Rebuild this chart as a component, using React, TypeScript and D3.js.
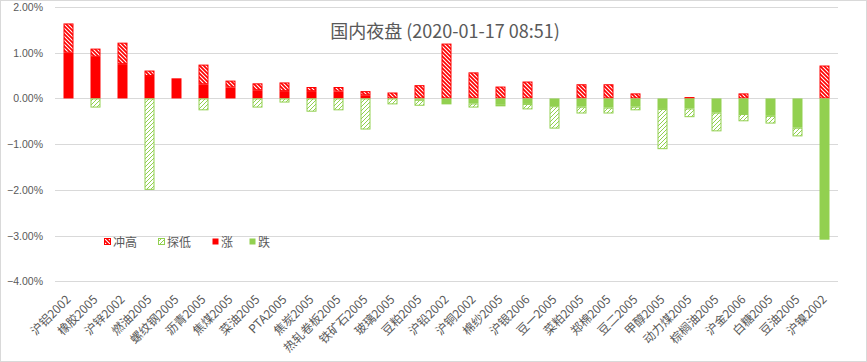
import * as d3 from 'd3';
import { useEffect, useRef } from 'react';

const categories = [
  '沪铝2002', '橡胶2005', '沪锌2002', '燃油2005', '螺纹钢2005', '沥青2005',
  '焦煤2005', '菜油2005', 'PTA2005', '焦炭2005', '热轧卷板2005', '铁矿石2005',
  '玻璃2005', '豆粕2005', '沪铅2002', '沪铜2002', '棉纱2005', '沪银2006',
  '豆一2005', '菜粕2005', '郑棉2005', '豆二2005', '甲醇2005', '动力煤2005',
  '棕榈油2005', '沪金2006', '白糖2005', '豆油2005', '沪镍2002',
];

// close change (%)
const closeVals = [
  1.0, 0.91, 0.75, 0.49, 0.44, 0.31, 0.24, 0.18, 0.16, 0.16, 0.15, 0.07,
  0, -0.03, -0.13, -0.11, -0.14, -0.12, -0.17, -0.18, -0.2, -0.18, -0.23, -0.22,
  -0.31, -0.34, -0.38, -0.64, -3.09,
];

// session high (%)
const highVals = [
  1.64, 1.09, 1.22, 0.61, 0.44, 0.74, 0.39, 0.33, 0.35, 0.25, 0.25, 0.16,
  0.13, 0.29, 1.2, 0.57, 0.26, 0.37, 0, 0.31, 0.31, 0.11, 0, 0.03,
  0, 0.11, 0, 0, 0.72,
];

// session low (%)
const lowVals = [
  0, -0.2, 0, -2.0, 0, -0.26, 0, -0.2, -0.09, -0.29, -0.26, -0.68,
  -0.13, -0.16, -0.13, -0.2, -0.17, -0.24, -0.66, -0.33, -0.33, -0.26, -1.11, -0.41,
  -0.72, -0.5, -0.55, -0.83, -3.09,
];

const yTicks = [2, 1, 0, -1, -2, -3, -4];

const legendItems = [
  { key: '冲高', fill: 'url(#hatchUp)', stroke: '#FF0000', x: 104 },
  { key: '探低', fill: 'url(#hatchDown)', stroke: '#92D050', x: 158 },
  { key: '涨', fill: '#FF0000', stroke: 'none', x: 212 },
  { key: '跌', fill: '#92D050', stroke: 'none', x: 249 },
];

const RED = '#FF0000';
const GREEN = '#92D050';
const FONT = '"Noto Sans CJK SC", "Noto Sans", sans-serif';

const App = () => {
  const ref = useRef<SVGSVGElement | null>(null);
  const width = 867;
  const height = 362;
  const margin = { left: 55, right: 29, top: 7, bottom: 80.7 };

  useEffect(() => {
    if (!ref.current) return;
    const svg = d3.select(ref.current);
    svg.selectAll('*').remove();

    const defs = svg.append('defs');
    const up = defs
      .append('pattern')
      .attr('id', 'hatchUp')
      .attr('patternUnits', 'userSpaceOnUse')
      .attr('width', 4)
      .attr('height', 4);
    up.append('rect').attr('width', 4).attr('height', 4).attr('fill', RED);
    up.append('path')
      .attr('d', 'M-1,-1 L5,5 M-1,3 L1,5 M3,-1 L5,1')
      .attr('stroke', 'white')
      .attr('stroke-width', 1.1);

    const down = defs
      .append('pattern')
      .attr('id', 'hatchDown')
      .attr('patternUnits', 'userSpaceOnUse')
      .attr('width', 4)
      .attr('height', 4);
    down.append('rect').attr('width', 4).attr('height', 4).attr('fill', 'white');
    down.append('path')
      .attr('d', 'M-1,5 L5,-1 M-1,1 L1,-1 M3,5 L5,3')
      .attr('stroke', GREEN)
      .attr('stroke-width', 1);

    // outer frame
    svg.append('rect')
      .attr('x', 0.5)
      .attr('y', 0.5)
      .attr('width', width - 1)
      .attr('height', height - 1)
      .attr('fill', 'white')
      .attr('stroke', '#D9D9D9');

    const xScale = d3
      .scaleBand()
      .domain(categories)
      .range([margin.left, width - margin.right])
      .paddingInner(0.63)
      .paddingOuter(0.315);

    const yScale = d3
      .scaleLinear()
      .domain([-4, 2])
      .range([height - margin.bottom, margin.top]);

    // grid
    svg.append('g')
      .selectAll('line')
      .data(yTicks)
      .join('line')
      .attr('x1', margin.left)
      .attr('x2', width - margin.right)
      .attr('y1', (d) => Math.round(yScale(d)) + 0.5)
      .attr('y2', (d) => Math.round(yScale(d)) + 0.5)
      .attr('stroke', '#D9D9D9');

    svg.append('g')
      .selectAll('text')
      .data(yTicks)
      .join('text')
      .attr('x', 43)
      .attr('y', (d) => yScale(d) + 4)
      .attr('text-anchor', 'end')
      .attr('font-family', '"Liberation Sans", Arial, sans-serif')
      .attr('font-size', 10.5)
      .attr('fill', '#595959')
      .text((d) => d3.format('.2f')(d) + '%');

    const rows = categories.map((c, i) => {
      const close = closeVals[i];
      const rise = Math.max(close, 0);
      const fall = Math.min(close, 0);
      return { c, rise, fall, high: highVals[i], low: lowVals[i] };
    });

    const bw = xScale.bandwidth();
    const g = svg.append('g');

    // 涨
    g.selectAll('rect.rise')
      .data(rows.filter((d) => d.rise > 0))
      .join('rect')
      .attr('class', 'rise')
      .attr('x', (d) => xScale(d.c)!)
      .attr('width', bw)
      .attr('y', (d) => yScale(d.rise))
      .attr('height', (d) => yScale(0) - yScale(d.rise))
      .attr('fill', RED);

    // 冲高
    g.selectAll('rect.up')
      .data(rows.filter((d) => d.high > d.rise))
      .join('rect')
      .attr('class', 'up')
      .attr('x', (d) => xScale(d.c)! + 0.5)
      .attr('width', bw - 1)
      .attr('y', (d) => yScale(d.high) + 0.5)
      .attr('height', (d) => Math.max(yScale(d.rise) - yScale(d.high) - 1, 0.5))
      .attr('fill', 'url(#hatchUp)')
      .attr('stroke', RED)
      .attr('stroke-width', 1);

    // 跌
    g.selectAll('rect.fall')
      .data(rows.filter((d) => d.fall < 0))
      .join('rect')
      .attr('class', 'fall')
      .attr('x', (d) => xScale(d.c)!)
      .attr('width', bw)
      .attr('y', yScale(0))
      .attr('height', (d) => yScale(d.fall) - yScale(0))
      .attr('fill', GREEN);

    // 探低
    g.selectAll('rect.down')
      .data(rows.filter((d) => d.low < d.fall))
      .join('rect')
      .attr('class', 'down')
      .attr('x', (d) => xScale(d.c)! + 0.5)
      .attr('width', bw - 1)
      .attr('y', (d) => yScale(d.fall) + 0.5)
      .attr('height', (d) => Math.max(yScale(d.low) - yScale(d.fall) - 1, 0.5))
      .attr('fill', 'url(#hatchDown)')
      .attr('stroke', GREEN)
      .attr('stroke-width', 1);

    // category labels
    svg.append('g')
      .selectAll('text')
      .data(categories)
      .join('text')
      .attr('text-anchor', 'end')
      .attr(
        'transform',
        (d) => `translate(${xScale(d)! + bw / 2 + 3},${height - margin.bottom + 19}) rotate(-45)`
      )
      .attr('font-family', FONT)
      .attr('font-size', 12)
      .attr('fill', '#595959')
      .text((d) => d);

    // title
    svg.append('text')
      .attr('x', 445)
      .attr('y', 38)
      .attr('text-anchor', 'middle')
      .attr('font-family', FONT)
      .attr('font-size', 18)
      .attr('fill', '#595959')
      .text('国内夜盘 (2020-01-17 08:51)');

    // legend
    const lg = svg.append('g').attr('transform', 'translate(0,242)');
    const items = lg
      .selectAll('g')
      .data(legendItems)
      .join('g')
      .attr('transform', (d) => `translate(${d.x},0)`);
    items.append('rect')
      .attr('x', 0.5)
      .attr('y', -3.5)
      .attr('width', 6)
      .attr('height', 6)
      .attr('fill', (d) => d.fill)
      .attr('stroke', (d) => d.stroke);
    items.append('text')
      .attr('x', 9)
      .attr('y', 4.5)
      .attr('font-family', FONT)
      .attr('font-size', 12)
      .attr('fill', '#595959')
      .text((d) => d.key);
  }, []);

  return (
    <svg
      ref={ref}
      width={width}
      height={height}
      style={{ position: 'absolute', left: 0, top: 0 }}
    />
  );
};

export default App;
